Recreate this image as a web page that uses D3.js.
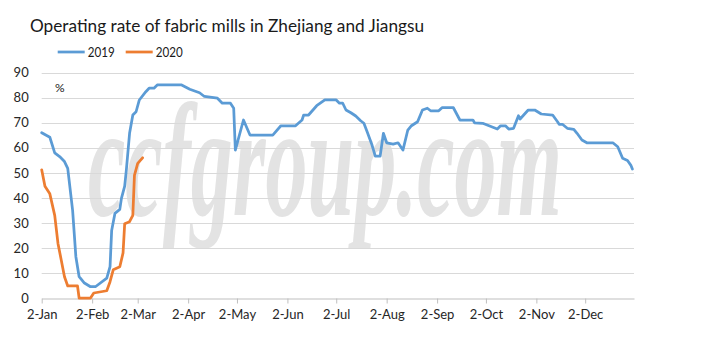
<!DOCTYPE html>
<html>
<head>
<meta charset="utf-8">
<script src="https://cdn.jsdelivr.net/npm/d3@7"></script>
<style>
  body { margin: 0; background: #fff; }
  svg { display: block; font-family: Lato, "Open Sans", sans-serif; }
</style>
</head>
<body>
<svg></svg>
<script>
var width = 708;
var height = 342;

// month-day of each reading (both years drawn on the 2019 calendar)
var dates2019 = ["01-02","01-07","01-10","01-13","01-16","01-18","01-21","01-23","01-25","01-28",
  "02-01","02-04","02-11","02-13","02-14","02-16","02-19","02-20","02-22","02-23","02-25","02-27",
  "03-01","03-03","03-07","03-09","03-12","03-14","03-29","04-03","04-09","04-12","04-20","04-23",
  "04-28","04-30","05-01","05-06","05-10","05-24","05-29","06-07","06-11","06-12","06-15","06-20",
  "06-25","07-02","07-04","07-06","07-08","07-11","07-14","07-17","07-19","07-21","07-24","07-26",
  "07-29","07-31","08-02","08-06","08-09","08-12","08-15","08-17","08-21","08-24","08-27","08-29",
  "09-03","09-05","09-12","09-16","09-24","09-25","09-30","10-09","10-11","10-14","10-16","10-19",
  "10-22","10-23","10-28","11-01","11-05","11-12","11-15","11-16","11-18","11-21","11-25","11-27",
  "11-30","12-03","12-19","12-22","12-25","12-28","12-30","12-31"];
var values2019 = [66,64.2,58,56.5,54.5,51.8,35,16.5,8.5,6.1,
  4.5,4.5,7.9,12.5,27,33.8,35.4,39.8,44.7,51,65.8,73.1,
  74.4,79.1,82.4,83.8,83.8,85.1,85.1,83.4,82,80.5,79.8,77.8,
  77.8,75.8,59.1,71.1,65.1,65.1,68.8,68.8,71.1,73.1,73.1,76.8,
  79.1,79.1,77.8,77.8,75.1,74,72.7,70.8,69.8,66.4,61.1,56.7,
  56.7,65.8,62,61.5,62,59.1,67.1,68.7,70.4,75.1,75.8,74.8,
  74.8,76,76,71.1,71.1,70,69.8,67.5,68.8,68.8,67.5,67.8,
  72.8,71.5,75.1,75.1,73.5,73.1,70.4,69.4,69.4,67.8,67.4,65.8,
  63.1,62,62,60.4,55.8,54.9,53.1,51.5];

var dates2020 = ["01-02","01-04","01-07","01-10","01-12","01-14","01-16","01-18","01-24","01-25",
  "02-01","02-03","02-11","02-13","02-15","02-19","02-21","02-22","02-25","02-27","02-28","03-02","03-05"];
var values2020 = [51.2,44.6,41.6,33,21.8,15.2,8.5,4.8,4.8,0,
  0,2,2.9,6.5,11.3,12.5,18,29.7,30.5,33,49,53.8,56];

var seriesNames = ["2019", "2020"];
var colors = ["#5b9bd5", "#ed7d31"];
var yTicks = [0,10,20,30,40,50,60,70,80,90];
var monthTicks = ["01-02","02-02","03-02","04-02","05-02","06-02","07-02","08-02","09-02","10-02","11-02","12-02"];

var parse = d3.timeParse("%Y-%m-%d");
var toDate = function(md) { return parse("2019-" + md); };

var svg = d3.select("svg").attr("width", width).attr("height", height);

var xScale = d3.scaleTime()
  .domain([parse("2019-01-02"), parse("2020-01-01")])
  .range([41.7, 634]);
var yScale = d3.scaleLinear().domain([0, 90]).range([298, 72.7]);

// watermark
svg.append("text")
  .attr("x", 88).attr("y", 215)
  .attr("textLength", 474).attr("lengthAdjust", "spacingAndGlyphs")
  .style("font-family", "'Liberation Serif', serif")
  .style("font-style", "italic").style("font-weight", "bold")
  .style("font-size", "160px").style("fill", "#e3e3e3")
  .text("ccfgroup.com");

// gridlines
svg.append("g").selectAll("line")
  .data(yTicks.slice(1))
  .join("line")
  .attr("x1", xScale.range()[0]).attr("x2", xScale.range()[1])
  .attr("y1", d => Math.round(yScale(d)) + 0.5).attr("y2", d => Math.round(yScale(d)) + 0.5)
  .attr("stroke", "#d9d9d9").attr("stroke-width", 1);

// y axis
var yAxis = d3.axisLeft(yScale).tickValues(yTicks).tickSize(0).tickPadding(13);
var gy = svg.append("g").attr("transform", "translate(41.7,0)").call(yAxis);
gy.select(".domain").remove();
gy.selectAll("text").style("font-size", "13px").style("fill", "#262626").style("font-family", "Lato, sans-serif");

// x axis
var xAxis = d3.axisBottom(xScale)
  .tickValues(monthTicks.map(toDate))
  .tickFormat(d3.timeFormat("%-d-%b"))
  .tickSizeOuter(0).tickSizeInner(5).tickPadding(6);
var gx = svg.append("g").attr("transform", "translate(0,298.5)").call(xAxis);
gx.select(".domain").attr("stroke", "#bfbfbf");
gx.selectAll(".tick line").attr("stroke", "#bfbfbf");
gx.selectAll("text").style("font-size", "13px").style("fill", "#262626").style("font-family", "Lato, sans-serif");

// lines
var line = d3.line()
  .x(d => xScale(d[0]))
  .y(d => yScale(d[1]));

var series = [
  dates2019.map((d, i) => [toDate(d), values2019[i]]),
  dates2020.map((d, i) => [toDate(d), values2020[i]])
];

series.forEach(function(s, i) {
  svg.append("path")
    .datum(s)
    .attr("d", line)
    .attr("fill", "none")
    .attr("stroke", colors[i])
    .attr("stroke-width", 2.75)
    .attr("stroke-linejoin", "round")
    .attr("stroke-linecap", "round");
});

// title
svg.append("text")
  .attr("x", 30).attr("y", 31.5)
  .attr("textLength", 394).attr("lengthAdjust", "spacingAndGlyphs")
  .style("font-size", "18px").style("fill", "#1a1a1a")
  .text("Operating rate of fabric mills in Zhejiang and Jiangsu");

// legend
var legend = svg.append("g");
[[57.7, 87.7], [125.7, 155.7]].forEach(function(p, i) {
  legend.append("line")
    .attr("x1", p[0]).attr("x2", p[0] + 27)
    .attr("y1", 52).attr("y2", 52)
    .attr("stroke", colors[i]).attr("stroke-width", 2.75);
  legend.append("text")
    .attr("x", p[1]).attr("y", 56.5)
    .attr("textLength", 27).attr("lengthAdjust", "spacingAndGlyphs")
    .style("font-size", "12.5px").style("fill", "#1a1a1a")
    .text(seriesNames[i]);
});

// unit
svg.append("text")
  .attr("x", 55).attr("y", 92)
  .style("font-size", "12px").style("fill", "#1a1a1a")
  .text("%");
</script>
</body>
</html>
